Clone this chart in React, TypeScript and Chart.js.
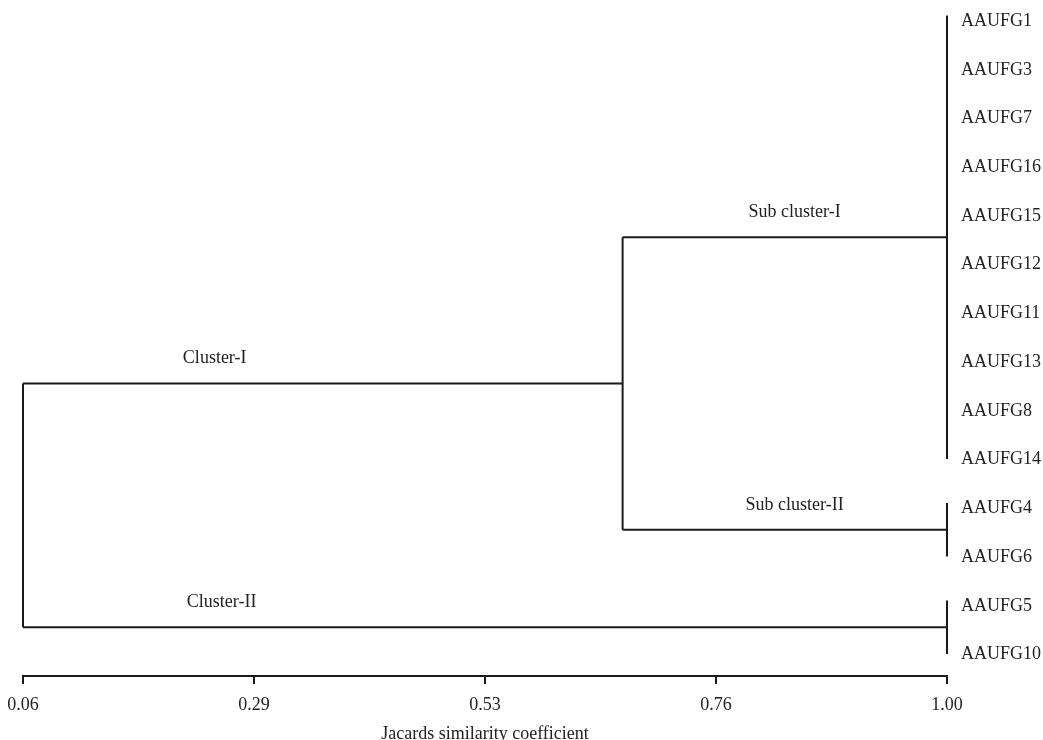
import { useEffect, useRef } from 'react';
import { Chart, registerables } from 'chart.js';

Chart.register(...registerables);

// ---- data ----
const leafLabels = [
  'AAUFG1', 'AAUFG3', 'AAUFG7', 'AAUFG16', 'AAUFG15', 'AAUFG12', 'AAUFG11',
  'AAUFG13', 'AAUFG8', 'AAUFG14', 'AAUFG4', 'AAUFG6', 'AAUFG5', 'AAUFG10',
];
// leaf groups joined at identical similarity (index range of leaves)
const groupFirst = [0, 10, 12];
const groupLast = [9, 11, 13];
const groupSimilarity = [1.0, 1.0, 1.0];
// Sub cluster-I + Sub cluster-II join
const clusterISimilarity = 0.67;
// Cluster-I + Cluster-II join (root)
const rootSimilarity = 0.06;

const xTickValues = [0.06, 0.295, 0.53, 0.765, 1.0];
const xTickLabels = ['0.06', '0.29', '0.53', '0.76', '1.00'];

const clusterNames = ['Sub cluster-I', 'Sub cluster-II', 'Cluster-I', 'Cluster-II'];
const clusterNameX = [0.845, 0.845, 0.255, 0.262];

const xTitle = 'Jacards similarity coefficient';

const LINE = '#1a1a1a';
const TEXT = '#222222';
const FONT = '"Liberation Serif", "Times New Roman", serif';

export default function App() {
  const ref = useRef<HTMLCanvasElement>(null);

  useEffect(() => {
    if (!ref.current) return;
    const ext = 0.05;
    const segs: { x: number; y: number }[][] = [];
    const centers: number[] = [];
    for (let g = 0; g < groupFirst.length; g++) {
      const s = groupSimilarity[g];
      segs.push([
        { x: s, y: groupFirst[g] - ext },
        { x: s, y: groupLast[g] + ext },
      ]);
      centers.push((groupFirst[g] + groupLast[g]) / 2);
    }
    // sub clusters -> cluster I
    segs.push([{ x: groupSimilarity[0], y: centers[0] }, { x: clusterISimilarity, y: centers[0] }]);
    segs.push([{ x: groupSimilarity[1], y: centers[1] }, { x: clusterISimilarity, y: centers[1] }]);
    segs.push([{ x: clusterISimilarity, y: centers[0] }, { x: clusterISimilarity, y: centers[1] }]);
    const c1 = (centers[0] + centers[1]) / 2;
    // cluster I -> root
    segs.push([{ x: clusterISimilarity, y: c1 }, { x: rootSimilarity, y: c1 }]);
    // cluster II -> root
    segs.push([{ x: groupSimilarity[2], y: centers[2] }, { x: rootSimilarity, y: centers[2] }]);
    segs.push([{ x: rootSimilarity, y: c1 }, { x: rootSimilarity, y: centers[2] }]);

    const nameY = [centers[0], centers[1], c1, centers[2]];

    const textPlugin = {
      id: 'dendroText',
      afterDatasetsDraw(chart: any) {
        const { ctx, scales, chartArea } = chart;
        const xs = scales.x;
        const ys = scales.y;
        ctx.save();
        ctx.fillStyle = TEXT;
        ctx.font = `18px ${FONT}`;
        ctx.textBaseline = 'middle';
        ctx.textAlign = 'left';
        leafLabels.forEach((l, i) => {
          ctx.fillText(l, xs.getPixelForValue(1.0) + 14, ys.getPixelForValue(i) + 3);
        });
        ctx.textAlign = 'center';
        clusterNames.forEach((n, i) => {
          ctx.fillText(n, xs.getPixelForValue(clusterNameX[i]), ys.getPixelForValue(nameY[i]) - 25);
        });
        ctx.fillText(xTitle, (chartArea.left + chartArea.right) / 2, 734);
        ctx.restore();
      },
    };

    const chart = new Chart(ref.current, {
      type: 'line',
      data: {
        datasets: segs.map((s) => ({
          data: s,
          borderColor: LINE,
          borderWidth: 2,
          pointRadius: 0,
          fill: false,
          tension: 0,
          clip: false as any,
        })),
      },
      options: {
        animation: false,
        responsive: false,
        maintainAspectRatio: false,
        layout: { padding: { left: 23, right: 96, top: 0, bottom: 24 } },
        plugins: { legend: { display: false }, tooltip: { enabled: false } },
        scales: {
          x: {
            type: 'linear',
            min: 0.06,
            max: 1.0,
            afterBuildTicks: (s: any) => {
              s.ticks = xTickValues.map((v) => ({ value: v }));
            },
            afterFit: (s: any) => {
              s.height = 40;
              s.paddingLeft = 0;
              s.paddingRight = 0;
            },
            ticks: {
              callback: (_v: any, i: number) => xTickLabels[i],
              font: { family: FONT, size: 18 },
              color: TEXT,
              padding: 10,
              maxRotation: 0,
              autoSkip: false,
            },
            grid: {
              drawOnChartArea: false,
              drawTicks: true,
              tickLength: 8,
              tickColor: LINE,
              tickWidth: 2,
              color: LINE,
              lineWidth: 2,
            },
            border: { display: true, color: LINE, width: 2 },
          },
          y: { type: 'linear', reverse: true, min: -0.37, max: 13.5, display: false },
        },
      },
      plugins: [textPlugin],
    });
    return () => chart.destroy();
  }, []);

  return (
    <div style={{ position: 'fixed', left: 0, top: 0, width: 1043, height: 740, background: '#fff' }}>
      <canvas ref={ref} width={1043} height={740} style={{ display: 'block' }} />
    </div>
  );
}
